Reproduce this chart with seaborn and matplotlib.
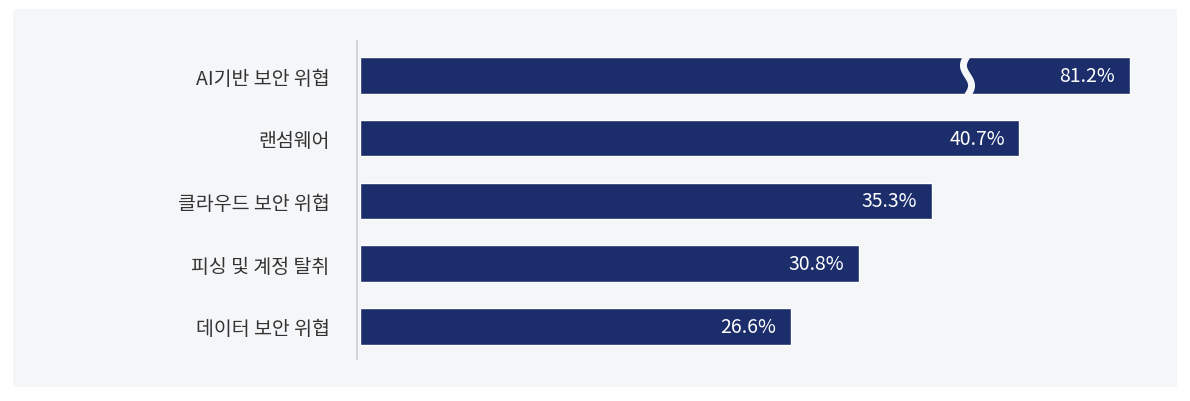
import numpy as np
import pandas as pd
import seaborn as sns
import matplotlib.pyplot as plt

categories = ["AI기반 보안 위협", "랜섬웨어", "클라우드 보안 위협", "피싱 및 계정 탈취", "데이터 보안 위협"]
values = [81.2, 40.7, 35.3, 30.8, 26.6]
cap = 47.5        # broken-axis display length for the long bar
break_at = 37.5   # where the break mark sits

bg = "#f5f6f8"
navy = "#1b2d6b"

sns.set_theme(style="white")
plt.rcParams['font.family'] = ['Noto Sans CJK KR', 'DejaVu Sans']

df = pd.DataFrame({"cat": categories, "val": values})
df["shown"] = df["val"].clip(upper=cap)

fig = plt.figure(figsize=(11.9, 4.02), dpi=100)
# grey panel behind the chart
panel = fig.add_axes([13 / 1190, 1 - 388 / 402, 1164 / 1190, 378 / 402], zorder=-1)
panel.set_facecolor(bg)
panel.set_xticks([])
panel.set_yticks([])
for s in panel.spines.values():
    s.set_visible(False)

ax = fig.add_axes([360 / 1190, 1 - 360 / 402, 810 / 1190, 318 / 402], zorder=1)
ax.set_facecolor("none")

sns.barplot(data=df, x="shown", y="cat", color=navy, saturation=1, width=0.58, ax=ax)
ax.set_xlim(0, 50)
ax.set_xlabel("")
ax.set_ylabel("")
ax.set_xticks([])
for s in ["top", "right", "bottom"]:
    ax.spines[s].set_visible(False)
ax.spines["left"].set_color("#cccccc")
ax.spines["left"].set_linewidth(1.2)
ax.spines["left"].set_position(("outward", 2))
ax.tick_params(axis="y", length=0, pad=20, labelsize=14, labelcolor="#333333")

for i, (v, s) in enumerate(zip(df["val"], df["shown"])):
    ax.text(s - 0.9, i, f"{v}%", ha="right", va="center", color="white", fontsize=14)
    if v > cap:
        yy = np.linspace(i - 0.32, i + 0.32, 40)
        xx = break_at + 0.25 * np.sin((yy - i) * np.pi / 0.32)
        ax.plot(xx, yy, color=bg, lw=5, solid_capstyle="butt")

fig.savefig("out.png", dpi=100)
